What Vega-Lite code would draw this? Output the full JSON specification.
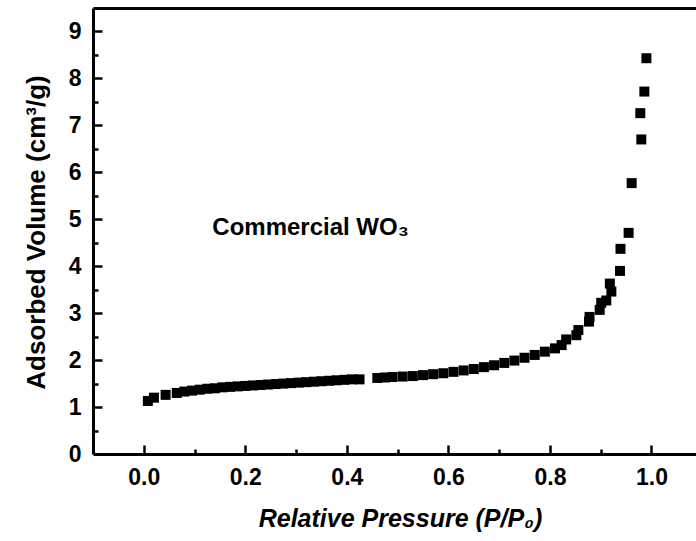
{
  "$schema": "https://vega.github.io/schema/vega-lite/v6.json",
  "autosize": {"type": "none"},
  "padding": {"left": 93, "top": 8, "right": 0, "bottom": 87},
  "width": 603,
  "height": 446,
  "background": "white",
  "config": {
    "view": {"stroke": null},
    "font": "Liberation Sans"
  },
  "data": {
    "values": [
      {"p": 0.008, "v": 1.13}, {"p": 0.02, "v": 1.2}, {"p": 0.043, "v": 1.26},
      {"p": 0.065, "v": 1.3}, {"p": 0.08, "v": 1.33}, {"p": 0.095, "v": 1.35},
      {"p": 0.11, "v": 1.37}, {"p": 0.125, "v": 1.39}, {"p": 0.14, "v": 1.4},
      {"p": 0.155, "v": 1.42}, {"p": 0.17, "v": 1.43}, {"p": 0.185, "v": 1.44},
      {"p": 0.2, "v": 1.45}, {"p": 0.215, "v": 1.46}, {"p": 0.23, "v": 1.47},
      {"p": 0.245, "v": 1.48}, {"p": 0.26, "v": 1.49}, {"p": 0.275, "v": 1.5},
      {"p": 0.29, "v": 1.51}, {"p": 0.305, "v": 1.52}, {"p": 0.32, "v": 1.53},
      {"p": 0.335, "v": 1.54}, {"p": 0.35, "v": 1.55}, {"p": 0.365, "v": 1.56},
      {"p": 0.38, "v": 1.57}, {"p": 0.395, "v": 1.58}, {"p": 0.41, "v": 1.59},
      {"p": 0.425, "v": 1.59}, {"p": 0.46, "v": 1.62}, {"p": 0.475, "v": 1.63},
      {"p": 0.49, "v": 1.64}, {"p": 0.51, "v": 1.65}, {"p": 0.53, "v": 1.66},
      {"p": 0.55, "v": 1.68}, {"p": 0.57, "v": 1.7}, {"p": 0.59, "v": 1.72},
      {"p": 0.61, "v": 1.75}, {"p": 0.63, "v": 1.78}, {"p": 0.65, "v": 1.81},
      {"p": 0.67, "v": 1.85}, {"p": 0.69, "v": 1.89}, {"p": 0.71, "v": 1.94},
      {"p": 0.73, "v": 1.99}, {"p": 0.75, "v": 2.05}, {"p": 0.77, "v": 2.11},
      {"p": 0.79, "v": 2.18}, {"p": 0.81, "v": 2.25}, {"p": 0.823, "v": 2.32},
      {"p": 0.832, "v": 2.44}, {"p": 0.852, "v": 2.53}, {"p": 0.856, "v": 2.64},
      {"p": 0.877, "v": 2.82}, {"p": 0.878, "v": 2.92}, {"p": 0.898, "v": 3.07},
      {"p": 0.901, "v": 3.22}, {"p": 0.911, "v": 3.27}, {"p": 0.918, "v": 3.63},
      {"p": 0.921, "v": 3.46}, {"p": 0.938, "v": 3.9}, {"p": 0.939, "v": 4.37},
      {"p": 0.955, "v": 4.71}, {"p": 0.961, "v": 5.77}, {"p": 0.978, "v": 7.26},
      {"p": 0.98, "v": 6.7}, {"p": 0.986, "v": 7.72}, {"p": 0.99, "v": 8.43}
    ]
  },
  "resolve": {"axis": {"x": "independent", "y": "independent"}},
  "layer": [
    {
      "mark": {"type": "point", "shape": "square", "filled": true, "color": "black", "size": 100, "opacity": 1},
      "encoding": {
        "x": {
          "field": "p", "type": "quantitative",
          "scale": {"domain": [-0.1, 1.0877], "nice": false, "zero": false},
          "axis": {
            "orient": "bottom",
            "values": [0, 0.2, 0.4, 0.6, 0.8, 1.0], "format": ".1f",
            "grid": false, "domainColor": "black", "domainWidth": 3, "ticks": false,
            "labelFont": "Liberation Sans", "labelFontWeight": "bold", "labelFontSize": 23,
            "labelColor": "black", "labelPadding": 12, "labelBaseline": "top",
            "title": "Relative Pressure (P/P₀)",
            "titleFont": "Liberation Sans", "titleFontWeight": "bold", "titleFontStyle": "italic",
            "titleFontSize": 25, "titleColor": "black",
            "titleX": 307, "titleY": 64, "titleAlign": "center", "titleBaseline": "middle"
          }
        },
        "y": {
          "field": "v", "type": "quantitative",
          "scale": {"domain": [0, 9.5], "nice": false, "zero": false},
          "axis": {
            "orient": "left",
            "values": [0, 1, 2, 3, 4, 5, 6, 7, 8, 9], "format": "d",
            "grid": false, "domainColor": "black", "domainWidth": 3, "ticks": false,
            "labelFont": "Liberation Sans", "labelFontWeight": "bold", "labelFontSize": 23,
            "labelColor": "black", "labelPadding": 12,
            "title": "Adsorbed Volume (cm³/g)",
            "titleFont": "Liberation Sans", "titleFontWeight": "bold",
            "titleFontSize": 26, "titleColor": "black",
            "titleX": -57, "titleY": 224, "titleAlign": "center", "titleBaseline": "middle", "titleAngle": -90
          }
        }
      }
    },
    {
      "mark": {"type": "point", "opacity": 0},
      "encoding": {
        "x": {
          "field": "p", "type": "quantitative",
          "scale": {"domain": [-0.1, 1.0877], "nice": false, "zero": false},
          "axis": {
            "orient": "bottom", "values": [0, 0.2, 0.4, 0.6, 0.8, 1.0], "offset": -9,
            "domain": false, "labels": false, "grid": false, "title": null,
            "tickColor": "black", "tickWidth": 2.5, "tickSize": 9
          }
        },
        "y": {
          "field": "v", "type": "quantitative",
          "scale": {"domain": [0, 9.5], "nice": false, "zero": false},
          "axis": {
            "orient": "left", "values": [1, 2, 3, 4, 5, 6, 7, 8, 9], "offset": -9,
            "domain": false, "labels": false, "grid": false, "title": null,
            "tickColor": "black", "tickWidth": 2.5, "tickSize": 9
          }
        }
      }
    },
    {
      "mark": {"type": "point", "opacity": 0},
      "encoding": {
        "x": {
          "field": "p", "type": "quantitative",
          "scale": {"domain": [-0.1, 1.0877], "nice": false, "zero": false},
          "axis": {
            "orient": "bottom", "values": [0.1, 0.3, 0.5, 0.7, 0.9], "offset": -5,
            "domain": false, "labels": false, "grid": false, "title": null,
            "tickColor": "black", "tickWidth": 2.5, "tickSize": 5
          }
        },
        "y": {
          "field": "v", "type": "quantitative",
          "scale": {"domain": [0, 9.5], "nice": false, "zero": false},
          "axis": {
            "orient": "left", "values": [0.5, 1.5, 2.5, 3.5, 4.5, 5.5, 6.5, 7.5, 8.5], "offset": -5,
            "domain": false, "labels": false, "grid": false, "title": null,
            "tickColor": "black", "tickWidth": 2.5, "tickSize": 5
          }
        }
      }
    },
    {
      "mark": {"type": "point", "opacity": 0},
      "encoding": {
        "x": {
          "field": "p", "type": "quantitative",
          "scale": {"domain": [-0.1, 1.0877], "nice": false, "zero": false},
          "axis": {
            "orient": "top", "domain": true, "domainColor": "black", "domainWidth": 3,
            "ticks": false, "labels": false, "grid": false, "title": null
          }
        }
      }
    },
    {
      "data": {"values": [{"p": 0.135, "v": 4.66, "label": "Commercial WO₃"}]},
      "mark": {"type": "text", "align": "left", "baseline": "alphabetic", "font": "Liberation Sans", "fontWeight": "bold", "fontSize": 24, "color": "black"},
      "encoding": {
        "x": {"field": "p", "type": "quantitative", "scale": {"domain": [-0.1, 1.0877], "nice": false, "zero": false}, "axis": null},
        "y": {"field": "v", "type": "quantitative", "scale": {"domain": [0, 9.5], "nice": false, "zero": false}, "axis": null},
        "text": {"field": "label"}
      }
    }
  ]
}
